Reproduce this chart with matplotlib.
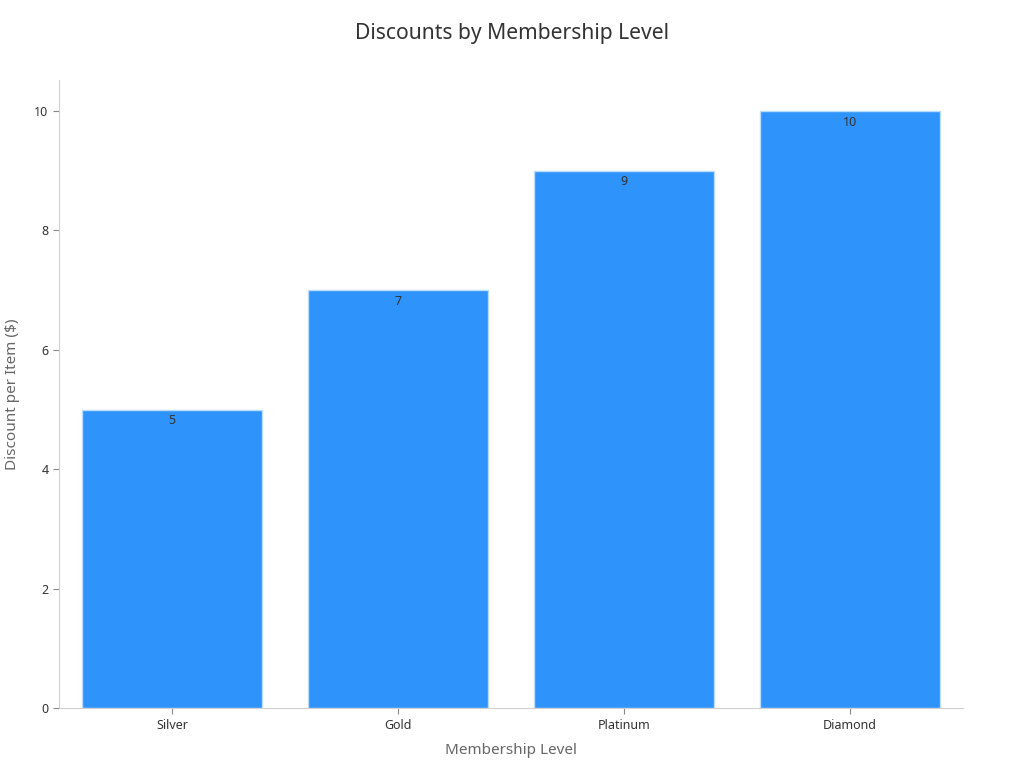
import matplotlib.pyplot as plt

plt.rcParams['font.family'] = ['Noto Sans', 'DejaVu Sans']

levels = ["Silver", "Gold", "Platinum", "Diamond"]
discounts = [5, 7, 9, 10]


def main():
    fig = plt.figure(figsize=(10.24, 7.68), dpi=100)
    ax = fig.add_axes([0.0576, 0.078, 0.8828, 0.818])

    x = range(len(levels))
    bars = ax.bar(x, discounts, width=0.8, color="#2E93FA",
                  edgecolor="#B9DCFD", linewidth=1)

    for b, v in zip(bars, discounts):
        ax.text(b.get_x() + b.get_width() / 2, v - 0.08, str(v),
                ha="center", va="top", fontsize=9, color="#333333")

    ax.set_xlim(-0.5, 3.5)
    ax.set_ylim(0, 10.52)
    ax.set_xticks(list(x))
    ax.set_xticklabels(levels)
    ax.set_yticks([0, 2, 4, 6, 8, 10])

    for s in ["top", "right"]:
        ax.spines[s].set_visible(False)
    for s in ["left", "bottom"]:
        ax.spines[s].set_color("#D0D0D0")
    ax.tick_params(axis="both", labelsize=9, colors="#333333", length=4)
    ax.tick_params(axis="both", color="#888888")

    ax.set_xlabel("Membership Level", fontsize=11, color="#666666", labelpad=8)
    ax.set_ylabel("Discount per Item ($)", fontsize=11, color="#666666", labelpad=10)
    fig.suptitle("Discounts by Membership Level", fontsize=15.2, color="#333333", y=0.97)

    fig.savefig("out.png", dpi=100)


if __name__ == "__main__":
    main()
